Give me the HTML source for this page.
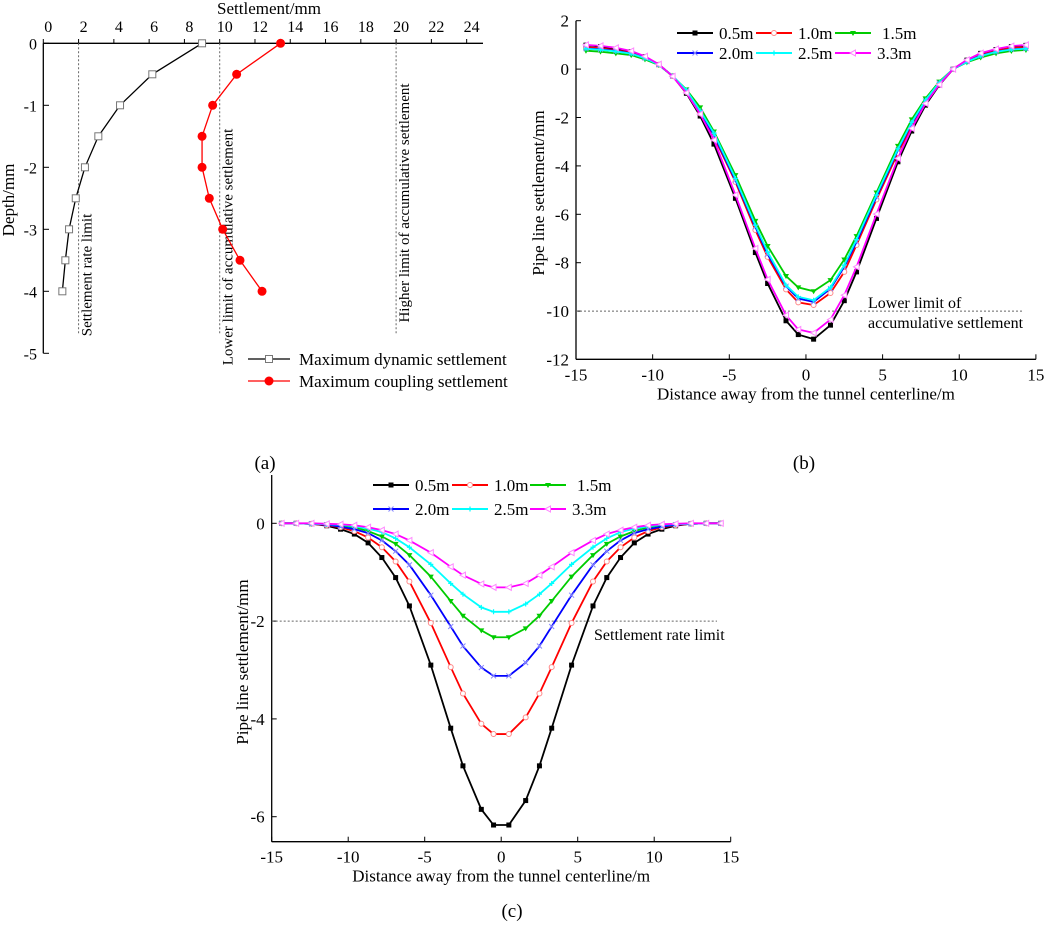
<!DOCTYPE html>
<html><head><meta charset="utf-8"><style>
body{margin:0;background:#fff}
svg{display:block;font-family:"Liberation Serif",serif}
</style></head><body>
<svg id="c" width="1052" height="927" viewBox="0 0 1052 927"></svg>
<script>
// ---- Panel (a) data ----
const aDepth=[0,-0.5,-1,-1.5,-2,-2.5,-3,-3.5,-4];
const aDynamic=[9.0,6.18,4.35,3.12,2.36,1.84,1.46,1.25,1.08];
const aCoupling=[13.45,10.96,9.6,9.0,9.0,9.41,10.17,11.15,12.4];
const aXTicks=[0,2,4,6,8,10,12,14,16,18,20,22,24];
const aYTicks=[0,-1,-2,-3,-4,-5];
const aLimits=[2,10,20];
const aLimitLabels=["Settlement rate limit","Lower limit of accumulative settlement","Higher limit of accumulative settlement"];
// ---- shared x for (b),(c) ----
const dist=[-14.35,-13.4,-12.4,-11.4,-10.5,-9.6,-8.7,-7.8,-6.9,-6.0,-4.6,-3.3,-2.5,-1.3,-0.5,0.5,1.6,2.5,3.3,4.6,6.0,6.9,7.8,8.7,9.6,10.5,11.4,12.4,13.4,14.35];
const seriesNames=["0.5m","1.0m","1.5m","2.0m","2.5m","3.3m"];
// ---- Panel (b) data ----
const b05=[0.99,0.93,0.83,0.72,0.51,0.19,-0.29,-1.0,-1.94,-3.1,-5.34,-7.58,-8.86,-10.4,-10.97,-11.16,-10.58,-9.57,-8.38,-6.17,-3.83,-2.56,-1.49,-0.66,0,0.37,0.65,0.81,0.93,0.98];
const b10=[0.9,0.86,0.78,0.68,0.48,0.18,-0.28,-0.94,-1.83,-2.8,-4.66,-6.65,-7.76,-9.1,-9.64,-9.75,-9.25,-8.38,-7.27,-5.39,-3.46,-2.36,-1.39,-0.6,0,0.33,0.58,0.76,0.87,0.9];
const b15=[0.76,0.72,0.65,0.58,0.4,0.17,-0.29,-0.84,-1.58,-2.58,-4.38,-6.27,-7.31,-8.55,-9.02,-9.18,-8.72,-7.87,-6.9,-5.1,-3.17,-2.08,-1.21,-0.52,0,0.28,0.48,0.65,0.75,0.79];
const b20=[0.85,0.82,0.75,0.65,0.46,0.18,-0.28,-0.89,-1.76,-2.73,-4.59,-6.52,-7.65,-8.97,-9.48,-9.62,-9.07,-8.17,-7.14,-5.28,-3.35,-2.24,-1.32,-0.58,0,0.31,0.55,0.72,0.82,0.85];
const b25=[0.84,0.8,0.73,0.64,0.45,0.18,-0.28,-0.87,-1.72,-2.65,-4.52,-6.45,-7.55,-8.93,-9.41,-9.55,-9.02,-8.1,-7.04,-5.2,-3.3,-2.2,-1.28,-0.56,0,0.3,0.54,0.71,0.81,0.84];
const b33=[1.0,0.96,0.88,0.75,0.53,0.2,-0.3,-0.98,-1.86,-2.93,-5.2,-7.41,-8.69,-10.17,-10.76,-10.9,-10.35,-9.34,-8.17,-5.99,-3.69,-2.45,-1.42,-0.64,0,0.38,0.66,0.83,0.95,1.0];
const bXTicks=[-15,-10,-5,0,5,10,15];
const bYTicks=[2,0,-2,-4,-6,-8,-10,-12];
// ---- Panel (c) data ----
const c05=[0,0,-0.01,-0.05,-0.12,-0.22,-0.4,-0.7,-1.11,-1.69,-2.9,-4.19,-4.96,-5.85,-6.17,-6.17,-5.67,-4.96,-4.19,-2.9,-1.69,-1.11,-0.7,-0.4,-0.22,-0.12,-0.05,-0.01,0,0];
const c10=[0,0,-0.01,-0.04,-0.08,-0.16,-0.29,-0.49,-0.78,-1.19,-2.04,-2.94,-3.48,-4.1,-4.31,-4.31,-3.97,-3.48,-2.94,-2.04,-1.19,-0.78,-0.49,-0.29,-0.16,-0.08,-0.04,-0.01,0,0];
const c15=[0,0,-0.01,-0.02,-0.04,-0.08,-0.16,-0.27,-0.42,-0.65,-1.09,-1.59,-1.89,-2.19,-2.33,-2.33,-2.15,-1.89,-1.59,-1.09,-0.65,-0.42,-0.27,-0.16,-0.08,-0.04,-0.02,-0.01,0,0];
const c20=[0,0,-0.01,-0.03,-0.07,-0.12,-0.2,-0.35,-0.57,-0.85,-1.47,-2.11,-2.51,-2.95,-3.12,-3.12,-2.85,-2.51,-2.11,-1.47,-0.85,-0.57,-0.35,-0.2,-0.12,-0.07,-0.03,-0.01,0,0];
const c25=[0,0,-0.01,-0.02,-0.03,-0.06,-0.11,-0.18,-0.31,-0.49,-0.84,-1.23,-1.45,-1.72,-1.81,-1.81,-1.65,-1.45,-1.23,-0.84,-0.49,-0.31,-0.18,-0.11,-0.06,-0.03,-0.02,-0.01,0,0];
const c33=[0,0,0,-0.01,-0.02,-0.04,-0.08,-0.14,-0.22,-0.35,-0.6,-0.89,-1.06,-1.24,-1.31,-1.31,-1.23,-1.06,-0.89,-0.6,-0.35,-0.22,-0.14,-0.08,-0.04,-0.02,-0.01,0,0,0];
const cXTicks=[-15,-10,-5,0,5,10,15];
const cYTicks=[0,-2,-4,-6];

const NS="http://www.w3.org/2000/svg";
const svg=document.getElementById('c');
function el(tag,attrs,parent,text){const e=document.createElementNS(NS,tag);for(const k in attrs)e.setAttribute(k,attrs[k]);if(text!==undefined)e.textContent=text;(parent||svg).appendChild(e);return e;}
const colors=["#000","#f00","#0c0","#00f","#0ff","#f0f"];
const markerTypes=["sq","circ","tri","x","star","ltri"];
function marker(g,t,x,y,c){
  let m;
  if(t==="sq")m=el('rect',{x:x-2.5,y:y-2.5,width:5,height:5,fill:c},g);
  else if(t==="circ")m=el('circle',{cx:x,cy:y,r:2.5,fill:"#fff",stroke:"#f88","stroke-width":1},g);
  else if(t==="tri")m=el('polygon',{points:`${x-3},${y-2} ${x+3},${y-2} ${x},${y+3}`,fill:c},g);
  else if(t==="x")m=el('path',{d:`M${x-2.5},${y-2.5}L${x+2.5},${y+2.5}M${x-2.5},${y+2.5}L${x+2.5},${y-2.5}`,stroke:"#88f","stroke-width":1},g);
  else if(t==="star")m=el('path',{d:`M${x-2.5},${y}L${x+2.5},${y}M${x},${y-2.5}L${x},${y+2.5}`,stroke:c,"stroke-width":1.2},g);
  else m=el('polygon',{points:`${x-3},${y} ${x+2.5},${y-3} ${x+2.5},${y+3}`,fill:"#fff",stroke:"#f8f","stroke-width":1},g);
  
  
}

// ===== Panel (a) =====
(function(){
  const g=el('g',{});  
  const X=v=>43.3+v*17.64, Y=v=>43.3-v*62;
  el('line',{x1:43.3,y1:43.3,x2:483,y2:43.3,stroke:"#000","stroke-width":1.3},g);
  el('line',{x1:43.3,y1:43.3,x2:43.3,y2:Y(-5),stroke:"#000","stroke-width":1.3},g);
  aXTicks.forEach(v=>{el('line',{x1:X(v),y1:43.3,x2:X(v),y2:39,stroke:"#000"},g);
    const t=el('text',{x:X(v)+5,y:32,"font-size":16,"text-anchor":"middle"},g,v);});
  aYTicks.forEach(v=>{el('line',{x1:43.3,y1:Y(v),x2:49,y2:Y(v),stroke:"#000"},g);
    const t=el('text',{x:37,y:Y(v)+6,"font-size":16,"text-anchor":"end"},g,v);});
  const tt=el('text',{x:269,y:14,"font-size":17,"text-anchor":"middle"},g,"Settlement/mm");
  const yt=el('text',{transform:"translate(14,200) rotate(-90)","font-size":17,"text-anchor":"middle"},g,"Depth/mm");
  const lblPos=[[93,275],[236,247],[383,203]];
  aLimits.forEach((v,i)=>{const l=el('line',{x1:X(v),y1:43.3,x2:X(v),y2:335,stroke:"#666","stroke-dasharray":"2,2"},g);
    const t=el('text',{transform:`translate(${X(v)+13},${lblPos[i][1]}) rotate(-90)`,"font-size":15,"text-anchor":"middle"},g,aLimitLabels[i]);});
  const pd=aDynamic.map((v,i)=>`${i?'L':'M'}${X(v)},${Y(aDepth[i])}`).join('');
  el('path',{d:pd,fill:"none",stroke:"#000","stroke-width":1.3},g);
  aDynamic.forEach((v,i)=>{const r=el('rect',{x:X(v)-3.5,y:Y(aDepth[i])-3.5,width:7,height:7,fill:"#fff",stroke:"#777"},g);});
  const pc=aCoupling.map((v,i)=>`${i?'L':'M'}${X(v)},${Y(aDepth[i])}`).join('');
  el('path',{d:pc,fill:"none",stroke:"#f00","stroke-width":1.3},g);
  aCoupling.forEach((v,i)=>{const r=el('circle',{cx:X(v),cy:Y(aDepth[i]),r:4.5,fill:"#f00"},g);});
  // legend
  el('line',{x1:248,y1:359,x2:290,y2:359,stroke:"#000","stroke-width":1.3},g);
  el('rect',{x:265.5,y:355.5,width:7,height:7,fill:"#fff",stroke:"#777"},g);
  const l1=el('text',{x:299,y:365,"font-size":17},g,"Maximum dynamic settlement");
  el('line',{x1:248,y1:381,x2:290,y2:381,stroke:"#f00","stroke-width":1.3},g);
  el('circle',{cx:269,cy:381,r:4.5,fill:"#f00"},g);
  const l2=el('text',{x:299,y:387,"font-size":17},g,"Maximum coupling settlement");
  const pl=el('text',{x:265,y:469,"font-size":19,"text-anchor":"middle"},g,"(a)");
})();

// generic curve panel
function curvePanel(name,cfg){
  const g=el('g',{});  
  const X=v=>cfg.x0+(v-cfg.xmin)*cfg.xs, Y=v=>cfg.y0-(v-cfg.yref)*cfg.ys;
  el('line',{x1:X(-15),y1:cfg.axisB,x2:X(15),y2:cfg.axisB,stroke:"#000","stroke-width":1.3},g);
  el('line',{x1:X(-15),y1:cfg.axisT,x2:X(-15),y2:cfg.axisB,stroke:"#000","stroke-width":1.3},g);
  cfg.xt.forEach(v=>{el('line',{x1:X(v),y1:cfg.axisB,x2:X(v),y2:cfg.axisB-5,stroke:"#000"},g);
    const t=el('text',{x:X(v),y:cfg.axisB+21,"font-size":17,"text-anchor":"middle"},g,v);});
  cfg.yt.forEach(v=>{el('line',{x1:X(-15),y1:Y(v),x2:X(-15)+5,y2:Y(v),stroke:"#000"},g);
    const t=el('text',{x:X(-15)-7,y:Y(v)+6,"font-size":17,"text-anchor":"end"},g,v);});
  const xt=el('text',{x:(X(-15)+X(15))/2,y:cfg.axisB+40,"font-size":17,"text-anchor":"middle"},g,"Distance away from  the tunnel centerline/m");
  const yt=el('text',{transform:`translate(${cfg.ylx},${cfg.yly}) rotate(-90)`,"font-size":17,"text-anchor":"middle"},g,"Pipe line settlement/mm");
  const dl=el('line',{x1:X(-15),y1:Y(cfg.limit),x2:cfg.limitEnd,y2:Y(cfg.limit),stroke:"#666","stroke-dasharray":"2,2"},g);
  cfg.limitText.forEach((s,i)=>{const t=el('text',{x:cfg.ltx,y:cfg.lty+i*20,"font-size":16},g,s);});
  cfg.series.forEach((arr,si)=>{
    const d=arr.map((v,i)=>`${i?'L':'M'}${X(dist[i])},${Y(v)}`).join('');
    const p=el('path',{d:d,fill:"none",stroke:colors[si],"stroke-width":1.8},g);
    arr.forEach((v,i)=>marker(g,markerTypes[si],X(dist[i]),Y(v),colors[si]));
  });
  // legend
  seriesNames.forEach((n,i)=>{
    const col=i%3,row=Math.floor(i/3);
    const lx=cfg.lx[col],ly=cfg.ly[row];
    el('line',{x1:lx,y1:ly,x2:lx+36,y2:ly,stroke:colors[i],"stroke-width":2},g);
    marker(g,markerTypes[i],lx+18,ly,colors[i]);
    const t=el('text',{x:lx+42+(i===2?5:0),y:ly+6,"font-size":17},g,n);
  });
  const pl=el('text',{x:cfg.plx,y:cfg.ply,"font-size":19,"text-anchor":"middle"},g,cfg.pl);
}
curvePanel('panel-b',{x0:576,xmin:-15,xs:15.33,y0:20.7,yref:2,ys:24.2,axisT:20.7,axisB:359.3,xt:bXTicks,yt:bYTicks,
  ylx:544,yly:193,limit:-10,limitEnd:1023,limitText:["Lower limit of","accumulative settlement"],ltx:868,lty:308,
  series:[b05,b10,b15,b20,b25,b33],lx:[677,756,835],ly:[33,53],plx:804,ply:469,pl:"(b)"});
curvePanel('panel-c',{x0:271.7,xmin:-15,xs:15.3,y0:523.3,yref:0,ys:48.9,axisT:475,axisB:841.7,xt:cXTicks,yt:cYTicks,
  ylx:248,yly:662,limit:-2,limitEnd:717,limitText:["Settlement rate limit"],ltx:594,lty:640,
  series:[c05,c10,c15,c20,c25,c33],lx:[373,452,530],ly:[485,509],plx:512,ply:917,pl:"(c)"});
</script>
</body></html>
